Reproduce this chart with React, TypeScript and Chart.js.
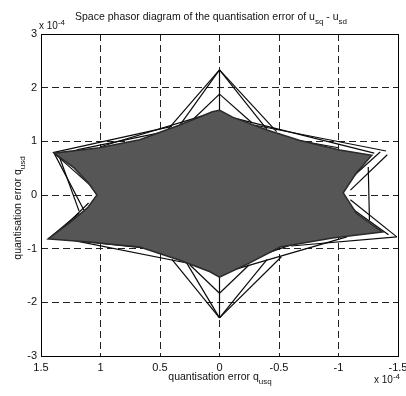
import React, { useEffect, useRef } from "react";
import { Chart, registerables } from "chart.js";

Chart.register(...registerables);

// Values in units of 1e-4
const xTicksRange = [-1.5, 1.5];
const yTicksRange = [-3, 3];

// Outline of the dense (grey) error region: [x, y]
const regionPoints: number[][] = [
  [0, 1.58], [0.06, 1.55], [0.34, 1.3], [0.67, 1.03], [1.01, 0.88], [1.39, 0.78],
  [1.22, 0.5], [1.1, 0.22], [1.03, 0], [1.11, -0.24], [1.25, -0.5], [1.44, -0.82],
  [1.1, -0.875], [0.67, -0.97], [0.34, -1.21], [0.08, -1.43], [0, -1.53],
  [-0.25, -1.27], [-0.51, -0.97], [-0.95, -0.8], [-1.37, -0.69],
  [-1.15, -0.34], [-1.04, 0.04], [-1.15, 0.41], [-1.28, 0.74],
  [-1.01, 0.84], [-0.67, 1.02], [-0.4, 1.21], [-0.11, 1.45], [0, 1.58],
];

// Individual trajectory segments: [x1, y1, x2, y2]
const trajectorySegments: number[][] = [
  // top apexes
  [0, 2.33, 0.45, 1.18], [0, 2.33, 0.36, 1.22], [0, 2.33, -0.4, 1.22], [0, 2.33, -0.48, 1.18],
  [0, 2.33, 0, 1.5], [0, 1.88, 0.25, 1.35], [0, 1.88, -0.27, 1.35],
  // bottom apexes
  [0, -2.29, 0.4, -1.2], [0, -2.29, 0.28, -1.25], [0, -2.29, -0.4, -1.2], [0, -2.29, -0.52, -1.15],
  [0, -2.29, 0, -1.45], [0, -1.83, 0.25, -1.3], [0, -1.83, -0.25, -1.3],
  // upper-left edge
  [1.4, 0.79, 0.4, 1.28], [1.2, 0.84, 0.3, 1.25], [1.0, 0.9, 0.15, 1.47],
  // upper-right edge
  [-1.4, 0.82, -0.3, 1.3], [-1.3, 0.78, -0.15, 1.42], [-1.0, 0.88, -0.5, 1.08],
  // left notch
  [1.39, 0.78, 1.14, -0.28], [1.39, 0.78, 1.04, 0.09], [1.35, 0.74, 1.18, -0.3],
  [1.18, -0.34, 1.44, -0.82], [1.1, -0.15, 1.4, -0.8],
  // right notch
  [-1.41, 0.75, -1.1, 0.09], [-1.35, 0.8, -1.05, 0.2], [-1.25, 0.52, -1.26, -0.47],
  [-1.1, -0.09, -1.49, -0.78], [-1.08, -0.2, -1.42, -0.74],
  // lower-left edge
  [1.43, -0.8, 0.5, -1.02], [1.2, -0.86, 0.2, -1.3],
  // lower-right edge
  [-1.07, -0.78, -0.11, -1.4], [-0.77, -0.8, -0.25, -1.2], [-1.49, -0.78, -0.6, -0.95],
];

const titleParts = [
  { t: "Space phasor diagram of the quantisation error of u" },
  { t: "sq", sub: true },
  { t: " - u" },
  { t: "sd", sub: true },
];
const xLabelParts = [{ t: "quantisation error q" }, { t: "usq", sub: true }];
const yLabelParts = [{ t: "quantisation error q" }, { t: "usd", sub: true }];
const exponentParts = [{ t: "x 10" }, { t: "-4", sup: true }];

const FONT = "'Liberation Sans', Arial, Helvetica, sans-serif";

type Part = { t: string; sub?: boolean; sup?: boolean };

function drawRich(
  ctx: CanvasRenderingContext2D,
  parts: Part[],
  x: number,
  y: number,
  size: number,
  align: "left" | "center" | "right"
) {
  const smallSize = Math.round(size * 0.75);
  const widths = parts.map((p) => {
    ctx.font = `${p.sub || p.sup ? smallSize : size}px ${FONT}`;
    return ctx.measureText(p.t).width;
  });
  const total = widths.reduce((a, b) => a + b, 0);
  let cx = align === "left" ? x : align === "center" ? x - total / 2 : x - total;
  ctx.textAlign = "left";
  ctx.textBaseline = "alphabetic";
  parts.forEach((p, i) => {
    ctx.font = `${p.sub || p.sup ? smallSize : size}px ${FONT}`;
    const dy = p.sub ? size * 0.38 : p.sup ? -size * 0.45 : 0;
    ctx.fillText(p.t, cx, y + dy);
    cx += widths[i];
  });
}

const textPlugin = {
  id: "textPlugin",
  afterDraw(chart: any) {
    const { ctx, chartArea } = chart;
    ctx.save();
    ctx.strokeStyle = "#000";
    ctx.lineWidth = 1;
    ctx.setLineDash([]);
    ctx.strokeRect(
      Math.round(chartArea.left) + 0.5,
      Math.round(chartArea.top) + 0.5,
      Math.round(chartArea.right - chartArea.left),
      Math.round(chartArea.bottom - chartArea.top)
    );
    ctx.fillStyle = "#111";
    drawRich(ctx, titleParts, 211, 20, 10.5, "center");
    drawRich(ctx, exponentParts, 39, 29, 10, "left");
    drawRich(ctx, exponentParts, 374, 383, 10, "left");
    drawRich(ctx, xLabelParts, 220, 380, 10.5, "center");
    ctx.save();
    ctx.translate(21, 208);
    ctx.rotate(-Math.PI / 2);
    drawRich(ctx, yLabelParts, 0, 0, 10.5, "center");
    ctx.restore();
    ctx.restore();
  },
};

const fmt = (v: any) => `${+Number(v).toFixed(2)}`;

export default function App() {
  const ref = useRef<HTMLCanvasElement | null>(null);
  useEffect(() => {
    document.body.style.margin = "0";
    const canvas = ref.current;
    if (!canvas) return;
    const datasets: any[] = [
      {
        data: regionPoints.map(([x, y]) => ({ x, y })),
        showLine: true,
        fill: "shape",
        backgroundColor: "#565656",
        borderColor: "#2a2a2a",
        borderWidth: 1.5,
        pointRadius: 0,
        tension: 0,
      },
      ...trajectorySegments.map(([x1, y1, x2, y2]) => ({
        data: [
          { x: x1, y: y1 },
          { x: x2, y: y2 },
        ],
        showLine: true,
        fill: false,
        borderColor: "#0a0a0a",
        borderWidth: 1.2,
        pointRadius: 0,
      })),
    ];
    const chart = new Chart(canvas, {
      type: "scatter",
      data: { datasets },
      options: {
        animation: false,
        responsive: false,
        devicePixelRatio: 1,
        layout: { padding: { top: 34, right: 8, left: 0, bottom: 0 } },
        plugins: { legend: { display: false }, tooltip: { enabled: false }, title: { display: false } },
        scales: {
          x: {
            type: "linear",
            position: "bottom",
            reverse: true,
            min: xTicksRange[0],
            max: xTicksRange[1],
            ticks: {
              stepSize: 0.5,
              color: "#111",
              font: { family: FONT, size: 11 },
              padding: 5,
              maxRotation: 0,
              autoSkip: false,
              callback: fmt,
            },
            grid: {
              color: (c: any) =>
                c.tick && (c.tick.value === xTicksRange[0] || c.tick.value === xTicksRange[1])
                  ? "rgba(0,0,0,0)"
                  : "#222",
              lineWidth: 1,
              drawTicks: false,
            },
            border: { display: false, dash: [7, 4] },
            afterFit: (s: any) => {
              s.height = 40;
              s.paddingLeft = 0;
              s.paddingRight = 0;
            },
          },
          y: {
            type: "linear",
            min: yTicksRange[0],
            max: yTicksRange[1],
            ticks: {
              stepSize: 1,
              color: "#111",
              font: { family: FONT, size: 11 },
              padding: 4,
              callback: fmt,
            },
            grid: {
              color: (c: any) =>
                c.tick && (c.tick.value === yTicksRange[0] || c.tick.value === yTicksRange[1])
                  ? "rgba(0,0,0,0)"
                  : "#222",
              lineWidth: 1,
              drawTicks: false,
            },
            border: { display: false, dash: [7, 4] },
            afterFit: (s: any) => {
              s.width = 41;
              s.paddingTop = 0;
              s.paddingBottom = 0;
            },
          },
        },
      },
      plugins: [textPlugin],
    });
    return () => chart.destroy();
  }, []);
  return (
    <div style={{ position: "fixed", left: 0, top: 0, width: 406, height: 396, background: "#fff" }}>
      <canvas ref={ref} width={406} height={396} />
    </div>
  );
}
